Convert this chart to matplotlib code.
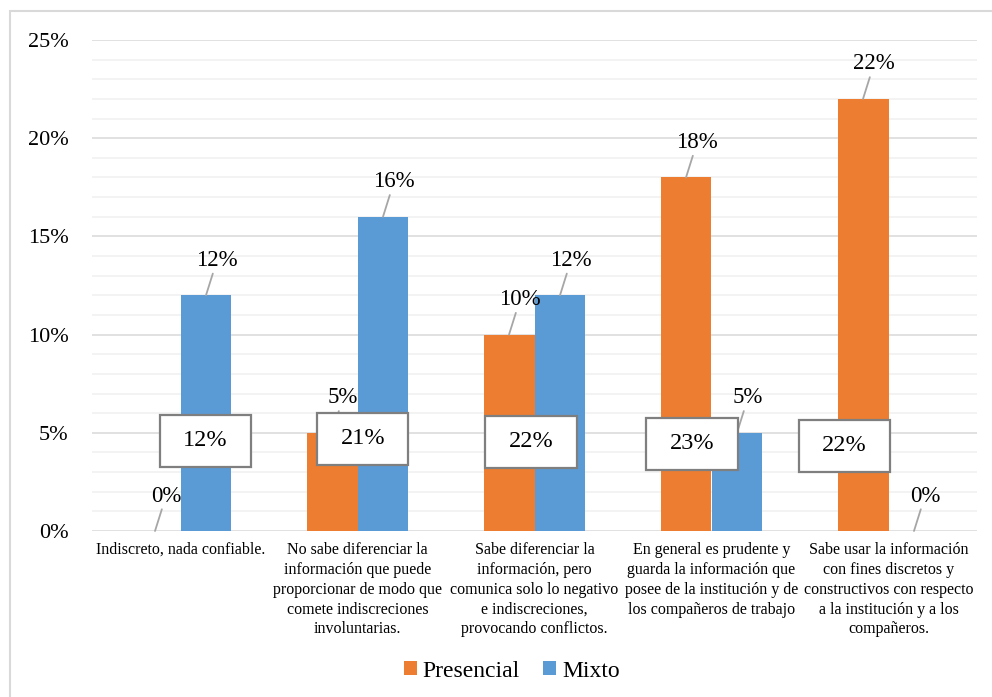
import numpy as np
import matplotlib
matplotlib.use("Agg")
import matplotlib.pyplot as plt
from matplotlib.patches import Rectangle
from matplotlib.ticker import MultipleLocator, PercentFormatter

plt.rcParams["font.family"] = ["Liberation Serif", "DejaVu Serif"]

categories = [
    "Indiscreto, nada confiable.",
    "No sabe diferenciar la\ninformación que puede\nproporcionar de modo que\ncomete indiscreciones\ninvoluntarias.",
    "Sabe diferenciar la\ninformación, pero\ncomunica solo lo negativo\ne indiscreciones,\nprovocando conflictos.",
    "En general es prudente y\nguarda la información que\nposee de la institución y de\nlos compañeros de trabajo",
    "Sabe usar la información\ncon fines discretos y\nconstructivos con respecto\na la institución y a los\ncompañeros.",
]
presencial = [0, 5, 10, 18, 22]
mixto = [12, 16, 12, 5, 0]
box_labels = [12, 21, 22, 23, 22]

# where the stray boxed labels sit (data coords, box centre)
box_pos = [(0.14, 4.6), (1.03, 4.7), (1.98, 4.55), (2.89, 4.45), (3.75, 4.35)]
box_w, box_h = 0.515, 2.65

C_PRES = "#ED7D31"
C_MIX = "#5B9BD5"

fig = plt.figure(figsize=(9.92, 6.97), dpi=100)
ax = fig.add_axes([92 / 992, 1 - 531 / 697, 885 / 992, 491 / 697])

x = np.arange(len(categories))
w = 0.288
b1 = ax.bar(x - w / 2, presencial, w, color=C_PRES, label="Presencial", zorder=3)
b2 = ax.bar(x + w / 2, mixto, w, color=C_MIX, label="Mixto", zorder=3)

ax.set_xlim(-0.5, len(categories) - 0.5)
ax.set_ylim(0, 25)
ax.yaxis.set_major_locator(MultipleLocator(5))
ax.yaxis.set_minor_locator(MultipleLocator(1))
ax.yaxis.set_major_formatter(PercentFormatter(decimals=0))
ax.grid(axis="y", which="major", color="#d9d9d9", lw=1.1, zorder=0)
ax.grid(axis="y", which="minor", color="#f0f0f0", lw=1.1, zorder=0)
ax.tick_params(axis="y", which="both", length=0, labelsize=16, pad=17)
ax.tick_params(axis="x", length=0, pad=8)
ax.set_xticks(x)
ax.set_xticklabels(categories, fontsize=11.5, va="top", linespacing=1.32)
for s in ax.spines.values():
    s.set_visible(False)

# data labels with leader lines
for bars, vals in ((b1, presencial), (b2, mixto)):
    for r, v in zip(bars, vals):
        ax.annotate(f"{v}%", (r.get_x() + r.get_width() / 2, v),
                    xytext=(11, 35), textcoords="offset pixels",
                    ha="center", va="center", fontsize=16.5, zorder=5,
                    arrowprops=dict(arrowstyle="-", color="#a6a6a6", lw=1.3,
                                    shrinkA=0, shrinkB=0))

for (bx, by), v in zip(box_pos, box_labels):
    ax.add_patch(Rectangle((bx - box_w / 2, by - box_h / 2), box_w, box_h,
                           fc="white", ec="#7f7f7f", lw=1.6, zorder=6))
    ax.text(bx, by, f"{v}%", ha="center", va="center", fontsize=17.5, zorder=7)

fig.legend(handles=[b1, b2], loc="center", bbox_to_anchor=(0.516, 0.037), ncol=2,
           frameon=False, fontsize=17, handlelength=0.55, handleheight=0.55,
           handletextpad=0.25, columnspacing=1.0)

fig.add_artist(Rectangle((10 / 992, -0.5), 2, 0.5 + (697 - 11) / 697,
                         transform=fig.transFigure, fill=False, ec="#d9d9d9", lw=1.5))

fig.savefig("out.png", dpi=100)
